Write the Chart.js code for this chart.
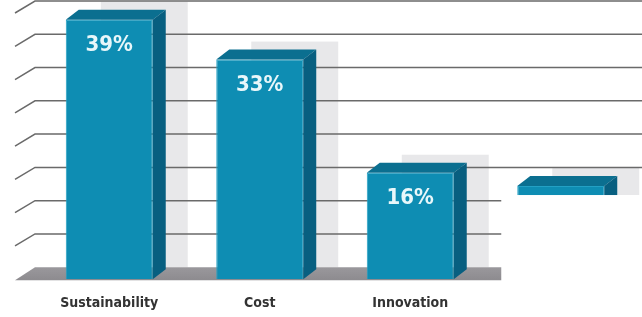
<!DOCTYPE html>
<html>
<head>
<meta charset="utf-8">
<script src="https://cdn.jsdelivr.net/npm/chart.js@4/dist/chart.umd.min.js"></script>
<style>
  html, body { margin: 0; padding: 0; background: #fff; }
  #wrap { width: 642px; height: 317px; position: relative; }
</style>
</head>
<body>
<div id="wrap"><canvas id="chart"></canvas></div>
<script>
// data (4th bar is mostly hidden under a white box)
const categories = ['Sustainability', 'Cost', 'Innovation', ''];
const shares = [39, 33, 16, 14];
const valueLabels = ['39%', '33%', '16%', ''];
const yTicks = [0, 5, 10, 15, 20, 25, 30, 35, 40];

const FONT = "'Liberation Sans Narrow', 'DejaVu Sans Condensed', 'Arial Narrow', sans-serif";
const theme = {
    front: '#0e8db3',
    edge: '#23a0c4',
    top: '#0b6f90',
    side: '#085f80',
    floor: '#8d8b8f',
    grid: '#6a6a6a',
    shadow: '#e8e8ea',
    label: '#333333',
    value: '#e8f7fa'
};
const depth = { x: 13, y: 10 };     // bar depth
const wall = { x: 20, y: 12 };      // back wall offset
const shade = { x: 35, y: 18 };     // backdrop of each bar

const scene = {
    id: 'scene',
    beforeDatasetsDraw(chart) {
        const { ctx, chartArea, scales } = chart;
        const y = scales.y;
        const base = y.getPixelForValue(0);
        const bars = chart.getDatasetMeta(0).data;
        ctx.save();
        // light backdrop behind each bar
        ctx.fillStyle = theme.shadow;
        bars.forEach(b => {
            const w = b.width;
            ctx.fillRect(b.x - w / 2 + shade.x, b.y - shade.y, w, base - wall.y - (b.y - shade.y));
        });
        // back wall grid lines with slanted side wall ticks
        ctx.strokeStyle = theme.grid;
        ctx.lineWidth = 1.5;
        yTicks.forEach(v => {
            if (v === 0) return;
            const py = y.getPixelForValue(v);
            ctx.beginPath();
            ctx.moveTo(chartArea.left - wall.x + 1, py);
            ctx.lineTo(chartArea.left + 1, py - wall.y);
            ctx.lineTo(chart.width, py - wall.y);
            ctx.stroke();
        });
        // floor
        const g = ctx.createLinearGradient(0, base - wall.y, 0, base + 1);
        g.addColorStop(0, '#9a989c');
        g.addColorStop(1, theme.floor);
        ctx.fillStyle = g;
        ctx.beginPath();
        ctx.moveTo(chartArea.left - wall.x + 1, base + 1);
        ctx.lineTo(chartArea.left + 1, base - wall.y);
        ctx.lineTo(chart.width, base - wall.y);
        ctx.lineTo(chart.width, base + 1);
        ctx.closePath();
        ctx.fill();
        ctx.restore();
    },
    afterDatasetsDraw(chart) {
        const { ctx, scales } = chart;
        const base = scales.y.getPixelForValue(0);
        const bars = chart.getDatasetMeta(0).data;
        ctx.save();
        bars.forEach((b, i) => {
            const l = b.x - b.width / 2, r = b.x + b.width / 2, t = b.y;
            // top face
            ctx.fillStyle = theme.top;
            ctx.beginPath();
            ctx.moveTo(l, t);
            ctx.lineTo(l + depth.x, t - depth.y);
            ctx.lineTo(r + depth.x, t - depth.y);
            ctx.lineTo(r, t);
            ctx.closePath();
            ctx.fill();
            // side face
            ctx.fillStyle = theme.side;
            ctx.beginPath();
            ctx.moveTo(r, t);
            ctx.lineTo(r + depth.x, t - depth.y);
            ctx.lineTo(r + depth.x, base - depth.y);
            ctx.lineTo(r, base);
            ctx.closePath();
            ctx.fill();
            // value label
            ctx.fillStyle = theme.value;
            ctx.font = 'bold 22px ' + FONT;
            ctx.textAlign = 'center';
            ctx.textBaseline = 'middle';
            ctx.fillText(valueLabels[i], b.x, t + 26);
        });
        ctx.restore();
    },
    afterDraw(chart) {
        // white box hiding the last bar
        const { ctx } = chart;
        const last = chart.getDatasetMeta(0).data[categories.length - 1];
        ctx.save();
        ctx.fillStyle = '#ffffff';
        const bx = last.x - last.width / 2 - 16;
        const by = last.y + 9;
        ctx.fillRect(bx, by, chart.width - bx, chart.height - by);
        ctx.restore();
    }
};

new Chart(document.getElementById('chart'), {
    type: 'bar',
    data: {
        labels: categories,
        datasets: [{
            data: shares,
            backgroundColor: theme.front,
            borderColor: theme.edge,
            borderWidth: 1,
            borderSkipped: 'bottom',
            categoryPercentage: 1,
            barPercentage: 0.578
        }]
    },
    options: {
        responsive: true,
        maintainAspectRatio: false,
        animation: false,
        layout: { padding: { left: 34, right: 6, top: 13, bottom: -11 } },
        plugins: {
            legend: { display: false },
            tooltip: { enabled: false }
        },
        scales: {
            y: {
                display: false,
                min: 0,
                max: 40,
                ticks: { stepSize: 5 }
            },
            x: {
                grid: { display: false, drawTicks: false },
                border: { display: false },
                ticks: {
                    color: theme.label,
                    padding: 16,
                    maxRotation: 0,
                    font: { family: FONT, size: 14, weight: 'bold' }
                }
            }
        }
    },
    plugins: [scene]
});
</script>
</body>
</html>
